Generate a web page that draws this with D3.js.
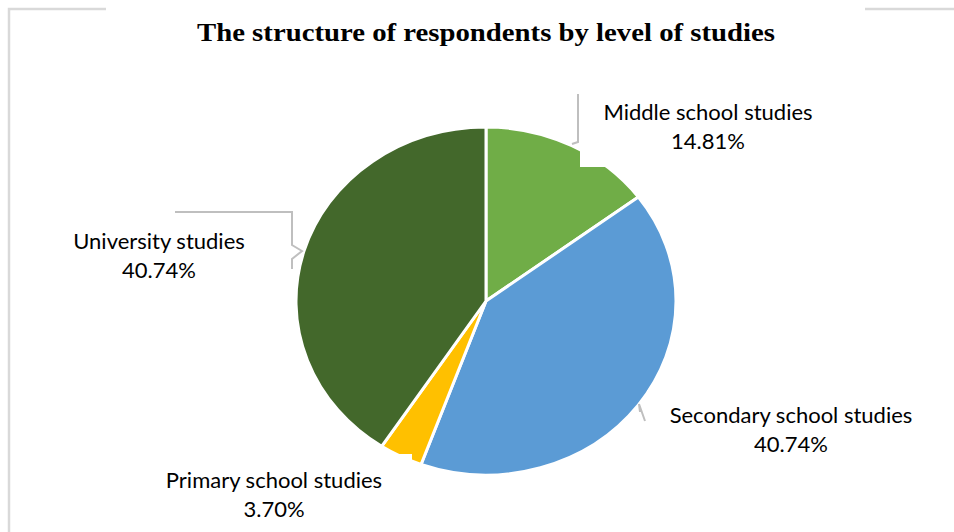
<!DOCTYPE html>
<html>
<head>
<meta charset="utf-8">
<script src="https://cdn.jsdelivr.net/npm/d3@7"></script>
<style>
  html, body { margin: 0; padding: 0; background: #fff; }
  svg { display: block; }
</style>
</head>
<body>
<svg id="chart" width="954" height="532"></svg>
<script>
const categories = ["Middle school studies", "Secondary school studies", "Primary school studies", "University studies"];
const values = [14.81, 40.74, 3.70, 40.74];
const valueLabels = ["14.81%", "40.74%", "3.70%", "40.74%"];
const colors = ["#70AD47", "#5B9BD5", "#FFC000", "#43682B"];
const title = "The structure of respondents by level of studies";

const svg = d3.select("#chart");

// frame (partial border)
const frame = svg.append("g").attr("stroke", "#D9D9D9").attr("stroke-width", 2.5).attr("fill", "none");
frame.append("path").attr("d", "M9,532 V9 H106");
frame.append("path").attr("d", "M865,9 H954");

// title
svg.append("text")
  .attr("x", 486).attr("y", 41)
  .attr("text-anchor", "middle")
  .attr("font-family", "'Liberation Serif', 'DejaVu Serif', serif")
  .attr("font-weight", "bold")
  .attr("font-size", 26)
  .attr("textLength", 578)
  .attr("lengthAdjust", "spacingAndGlyphs")
  .attr("fill", "#000")
  .text(title);

// pie
const cx = 486, cy = 301, rx = 190, ry = 174;
const pie = d3.pie().sort(null).value(d => d)(values);
const arc = d3.arc().innerRadius(0).outerRadius(ry);
const pg = svg.append("g").attr("transform", `translate(${cx},${cy}) scale(${rx / ry},1)`);
pg.selectAll("path").data(pie).join("path")
  .attr("d", arc)
  .attr("fill", (d, i) => colors[i])
  .attr("stroke", "#fff")
  .attr("stroke-width", 3)
  .attr("vector-effect", "non-scaling-stroke");

// leader lines
const lead = svg.append("g").attr("stroke", "#BFBFBF").attr("stroke-width", 2).attr("fill", "none");
lead.append("path").attr("d", "M578,94 V142 L572,144");
lead.append("path").attr("d", "M175,212 H292 V245 L302,251 L292,259 V269");
lead.append("path").attr("d", "M639,404 L645,421 M639,404 L640,412");

// label backgrounds (cover part of pie like the original)
const boxes = [
  {x: 580, y: 92, w: 260, h: 75},
  {x: 647, y: 390, w: 285, h: 72},
  {x: 155, y: 454, w: 257, h: 75},
  {x: 60, y: 220, w: 200, h: 68}
];
svg.append("g").selectAll("rect").data(boxes).join("rect")
  .attr("x", d => d.x).attr("y", d => d.y).attr("width", d => d.w).attr("height", d => d.h)
  .attr("fill", "#fff");

// labels
const labelPos = [
  {x: 708, y: 120},
  {x: 791, y: 423},
  {x: 274, y: 488},
  {x: 159, y: 249}
];
const lg = svg.append("g")
  .attr("font-family", "Lato, 'Open Sans', sans-serif")
  .attr("font-size", 22)
  .attr("fill", "#000")
  .attr("text-anchor", "middle");
categories.forEach((c, i) => {
  const t = lg.append("text").attr("x", labelPos[i].x).attr("y", labelPos[i].y);
  t.append("tspan").attr("x", labelPos[i].x).attr("dy", 0).text(c);
  t.append("tspan").attr("x", labelPos[i].x).attr("dy", 29).text(valueLabels[i]);
});
</script>
</body>
</html>
